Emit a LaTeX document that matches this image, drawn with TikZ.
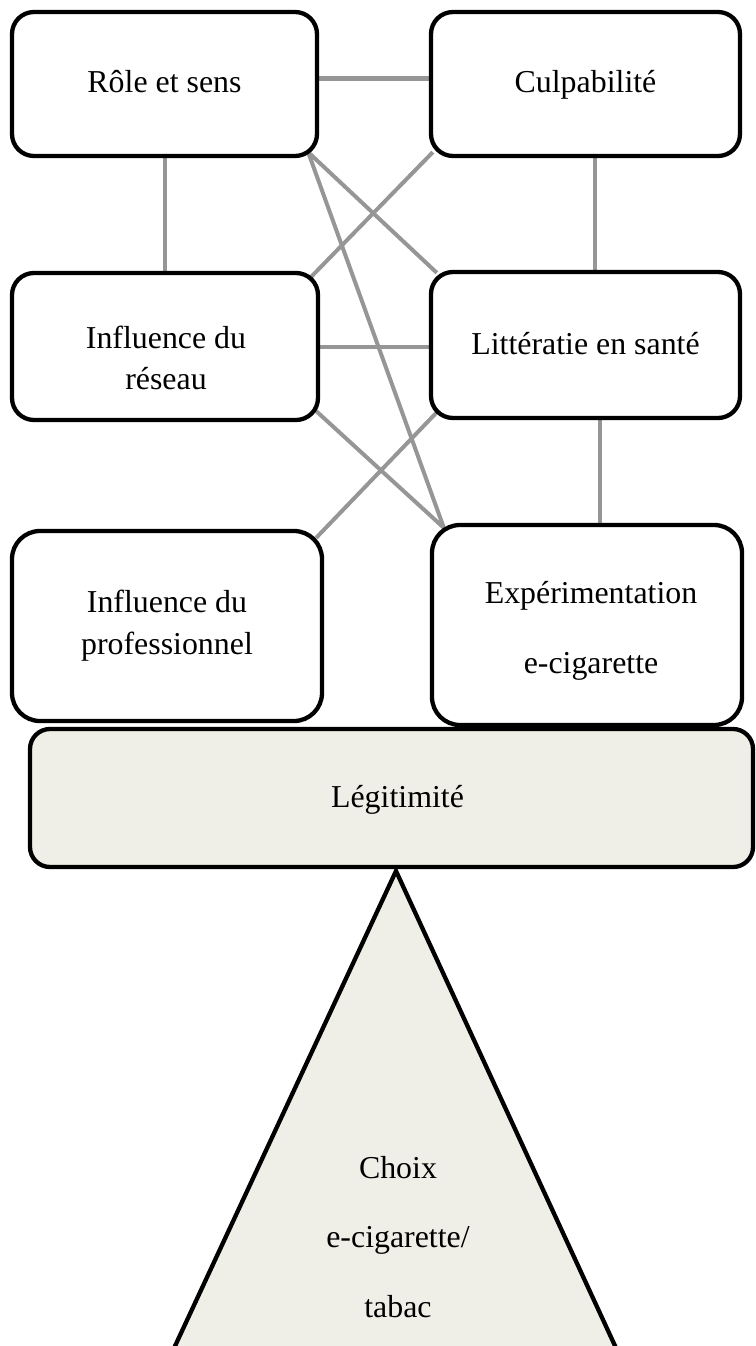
\documentclass[tikz,border=0pt]{standalone}
\usepackage{fontspec}
\setmainfont{Liberation Serif}
\usetikzlibrary{backgrounds,calc}
\definecolor{conn}{RGB}{150,150,150}
\definecolor{legfill}{RGB}{239,239,231}
\begin{document}
\begin{tikzpicture}[x=1bp,y=-1bp,
  boxshape/.style={draw=black,line width=4.3bp,fill=white,rounded corners=22bp,inner sep=0pt},
  box/.style={boxshape,font=\fontsize{32}{42}\selectfont,text height=23bp,text depth=5bp},
  mbox/.style={boxshape,align=center,font=\fontsize{32}{42}\selectfont},
  txt/.style={align=center,inner sep=0pt},
  link/.style={draw=conn,line width=4bp}]
\clip (0,0) rectangle (755,1346);
% boxes
\node[box,minimum width=305bp,minimum height=144bp] (role) at (164.5,84) {Rôle et sens};
\node[box,minimum width=309bp,minimum height=144bp] (cul) at (585.5,84) {Culpabilité};
\node[boxshape,minimum width=306bp,minimum height=147bp] (res) at (165,346.5) {};
\node[txt,font=\fontsize{32}{42}\selectfont] (restxt) at (166,358) {Influence du\\réseau};
\node[box,minimum width=309bp,minimum height=146bp] (lit) at (585.5,345) {Littératie en santé};
\node[mbox,minimum width=310bp,minimum height=190bp,rounded corners=28bp] (pro) at (167,626) {Influence du\\professionnel};
\node[boxshape,minimum width=310bp,minimum height=200bp,rounded corners=28bp] (exp) at (587,625) {};
\node[txt,font=\fontsize{32}{70}\selectfont] (exptxt) at (591,631) {Expérimentation\\e-cigarette};
% triangle
\path[fill=legfill,draw=black,line width=4.3bp] (396,871) -- (149.9,1400) -- (640,1400) -- cycle;
\node[txt,font=\fontsize{32}{70}\selectfont] (choix) at (398,1237) {Choix\\e-cigarette/\\tabac};
\node[box,fill=legfill,minimum width=723bp,minimum height=138bp,rounded corners=20bp] (leg) at (391.5,798) {\hspace{12bp}Légitimité};
% connectors
\begin{pgfonlayer}{background}
\draw[link,line width=5bp] ([yshift=5bp]role.east) -- ([yshift=5bp]cul.west);
\draw[link] (role.south) -- (role.south |- res.north);
\draw[link] ([xshift=9bp]cul.south) -- ([xshift=9bp]cul.south |- lit.north);
\draw[link] ($(role.south east)+(-11,-6)$) -- ($(lit.north west)+(8,3)$);
\draw[link] ($(role.south east)+(-11,-6)$) -- ($(exp.north west)+(14,5)$);
\draw[link] ($(cul.south west)+(4,-6)$) -- ($(res.north east)+(-10,7)$);
\draw[link] (res.east) -- (res.east -| lit.west);
\draw[link] ($(res.south east)+(-5,-12)$) -- ($(exp.north west)+(14,5)$);
\draw[link] ($(lit.south west)+(10,-10)$) -- ($(pro.north east)+(-8,9)$);
\draw[link] ([xshift=14bp]lit.south) -- ([xshift=14bp]lit.south |- exp.north);
\end{pgfonlayer}
\end{tikzpicture}
\end{document}
